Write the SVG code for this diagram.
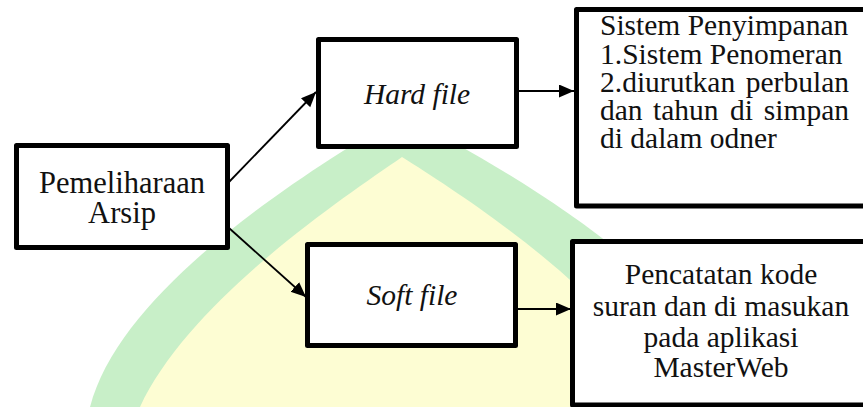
<svg xmlns="http://www.w3.org/2000/svg" width="863" height="407" viewBox="0 0 863 407">
<style>
.box{fill:#fff;stroke:#000;stroke-width:5;stroke-linejoin:round}
text{font-family:"Liberation Serif","Times New Roman",serif;font-size:29.5px;fill:#111}
.i{font-style:italic}
.c{text-anchor:middle}
.e{text-anchor:end}
.big{font-size:30.5px}
.ln{stroke:#000;stroke-width:1.8;fill:none}
</style>
<defs>
<marker id="ah" markerUnits="userSpaceOnUse" markerWidth="16" markerHeight="14" refX="15" refY="6.5" orient="auto">
<path d="M0,0 L15,6.5 L0,13 z" fill="#000"/>
</marker>
</defs>
<rect width="863" height="407" fill="#fff"/>
<g id="watermark">
<path d="M402,115 C300,175 120,290 90,407 L740,407 C710,290 520,175 402,115 Z" fill="#c8efc8"/>
<path d="M402,157 C340,200 190,300 140,407 L670,407 C625,300 470,200 402,157 Z" fill="#fdfdd3"/>
</g>
<g id="connectors">
<line class="ln" x1="229" y1="182" x2="316" y2="92" marker-end="url(#ah)"/>
<line class="ln" x1="229" y1="228" x2="306" y2="297" marker-end="url(#ah)"/>
<line class="ln" x1="519" y1="91" x2="574" y2="91" marker-end="url(#ah)"/>
<line class="ln" x1="513" y1="309" x2="571" y2="309" marker-end="url(#ah)"/>
</g>
<g id="pemeliharaan">
<rect class="box" x="16.5" y="145.5" width="211" height="102"/>
<text class="c big" x="122" y="193">Pemeliharaan</text>
<text class="c big" x="122" y="223">Arsip</text>
</g>
<g id="hardfile">
<rect class="box" x="318.5" y="39.5" width="198" height="107"/>
<text class="i c" x="417" y="104">Hard file</text>
</g>
<g id="softfile">
<rect class="box" x="307.5" y="244.5" width="208" height="101"/>
<text class="i c" x="412" y="305">Soft file</text>
</g>
<g id="sistem">
<rect class="box" x="576.5" y="9.5" width="300" height="196.5"/>
<text x="600" y="35">Sistem Penyimpanan</text>
<text x="600" y="63.5">1.Sistem Penomeran</text>
<text x="600" y="92">2.diurutkan</text>
<text class="e" x="849" y="92">perbulan</text>
<text x="600" y="120">dan</text>
<text x="653" y="120">tahun</text>
<text x="730" y="120">di</text>
<text class="e" x="849" y="120">simpan</text>
<text x="600" y="148">di dalam odner</text>
</g>
<g id="pencatatan">
<rect class="box" x="572.5" y="241.5" width="300" height="163.5"/>
<text class="c" x="721" y="284">Pencatatan kode</text>
<text class="c" x="721" y="315.5">suran dan di masukan</text>
<text class="c" x="721" y="346.5">pada aplikasi</text>
<text class="c" x="721" y="377">MasterWeb</text>
</g>
</svg>
